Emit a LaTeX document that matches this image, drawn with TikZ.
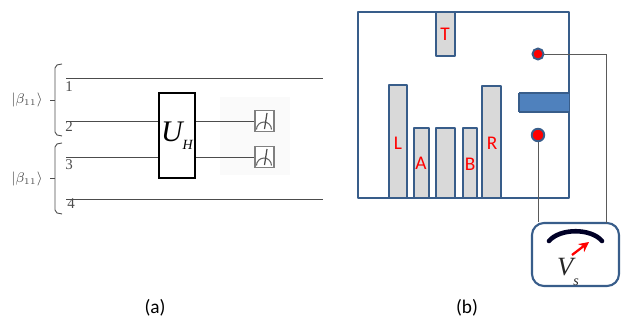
\documentclass[tikz,border=0pt]{standalone}
\usepackage{fontspec}
\setmainfont{Liberation Serif}
\newfontfamily\labelfont{Carlito}
\usepackage{amsmath}
\usepackage{amssymb}
\usetikzlibrary{arrows.meta}
\definecolor{framecol}{HTML}{385D8A}
\definecolor{barcol}{HTML}{D9D9D9}
\definecolor{plugcol}{HTML}{4F81BD}
\definecolor{wirecol}{HTML}{5A5A5A}
\tikzset{
  wire/.style={draw=black!70, line width=0.55pt},
  lead/.style={draw=wirecol, line width=0.55pt},
  brace/.style={draw=black!70, line width=0.5pt},
  gatebox/.style={draw=black, line width=1.5pt, fill=white, minimum width=7.2mm, minimum height=17mm, inner sep=0pt},
  meterbox/.style={draw=black!50, line width=0.6pt, fill=white, minimum width=3.8mm, minimum height=4.2mm, inner sep=0pt},
  wirenum/.style={font=\fontsize{8.5}{9}\selectfont, text=black!70, inner sep=0pt},
  gatebar/.style={draw=framecol, line width=1.05pt, fill=barcol, line join=round},
  barname/.style={font=\labelfont\fontsize{11}{12}\selectfont, text=red, inner sep=0pt},
  dotnode/.style={circle, draw=framecol, line width=1.1pt, fill=red, minimum size=2.2mm, inner sep=0pt},
  caption/.style={font=\labelfont\fontsize{11}{12}\selectfont, inner sep=0pt},
  ketname/.style={text=black!70, inner sep=0pt, font=\fontsize{8}{9}\selectfont},
}
\begin{document}
\begin{tikzpicture}[x=0.2mm,y=-0.2mm]
   \useasboundingbox (0,0) rectangle (626,320);
   % circuit
   \fill[black!2] (220,97) rectangle (290,175);
   \foreach \w/\y in {1/78,4/199} {
     \coordinate (in\w) at (66,\y);
     \coordinate (out\w) at (323,\y);
     \draw[wire] (in\w) -- (out\w);
   }
   \node[gatebox, font=\itshape\fontsize{17}{18}\selectfont] (gate) at (177,135.5) {U\raisebox{-0.55ex}{\fontsize{8}{9}\selectfont H}};
   \node[meterbox] (meterA) at (264.5,121) {};
   \node[meterbox] (meterB) at (264.5,157) {};
   \foreach \w/\y/\m in {2/121/meterA,3/157/meterB} {
     \coordinate (in\w) at (66,\y);
     \draw[wire] (in\w) -- (gate.west |- in\w);
     \draw[wire] (gate.east |- in\w) -- (\m.west);
     \draw[black!60, line width=0.6pt] ([xshift=0.4mm,yshift=0.5mm]\m.south west) arc[start angle=180, end angle=0, radius=1.5mm];
     \draw[black!70, line width=0.7pt] ([yshift=0.6mm]\m.south) -- ([xshift=0.5mm,yshift=-0.6mm]\m.north);
   }
   \node[wirenum] (numA) at (69,87) {1};
   \node[wirenum] (numB) at (69,127) {2};
   \node[wirenum] (numC) at (69,165) {3};
   \node[wirenum] (numD) at (71,204) {4};
   % brackets
   \draw[brace] (62,64) -- (57,65) -- (55,68) -- (55,132) -- (57,135) -- (62,136);
   \draw[brace] (50,100) -- (55,100);
   \draw[brace] (62,143) -- (57,144) -- (55,147) -- (55,210) -- (57,213) -- (62,214);
   \draw[brace] (50,178) -- (55,178);
   \node[ketname] (ketA) at (27,100) {$|\beta_{\scriptscriptstyle 11}\rangle$};
   \node[ketname] (ketB) at (27,179) {$|\beta_{\scriptscriptstyle 11}\rangle$};
   % device
   \foreach \xa/\xb/\ya in {389/407/85,414/429/128,436/455/128,463/477/128,482/501/86}
     \draw[gatebar] (\xa,\ya) rectangle (\xb,198);
   \draw[gatebar] (436,12) rectangle (455,56);
   \draw[framecol, line width=1.2pt, line join=round] (358,12) rectangle (569,198);
   \fill[plugcol] (519,93) rectangle (569,112);
   \draw[framecol, line width=0.6pt] (519,93) -- (569,93) (519,112) -- (569,112) (519,93) -- (519,112);
   \node[barname] (barT) at (445,34) {T};
   \node[barname] (barL) at (398,143) {L};
   \node[barname] (barA) at (421,163) {A};
   \node[barname] (barB) at (470,164) {B};
   \node[barname] (barR) at (492,143) {R};
   \node[dotnode] (dotA) at (538,54) {};
   \node[dotnode, minimum size=2.5mm] (dotB) at (538,135) {};
   % voltmeter
   \node[draw=framecol, line width=1.2pt, rounded corners=2.4mm, minimum width=17.4mm, minimum height=12.6mm, inner sep=0pt] (meterV) at (575.5,254.5) {};
   \coordinate (meterVa) at (606,223);
   \draw[lead] (dotA.east) -| (meterVa);
   \draw[lead] (dotB.south) -- (dotB.south |- meterV.north);
   \draw[black!85!blue, line width=2.6pt, line cap=round] (549,241) .. controls (560,228) and (591,228) .. (602,241);
   \draw[red, line width=1.3pt, -{Stealth[length=2mm,width=2mm]}] (572,255) -- (589,242);
   \node[text=black!85, inner sep=0pt, font=\itshape\fontsize{15}{16}\selectfont] (volt) at (568,272) {V\raisebox{-0.8ex}{\fontsize{8}{9}\selectfont s}};
   \node[caption] (capA) at (155,308) {(a)};
   \node[caption] (capB) at (467,308) {(b)};
\end{tikzpicture}
\end{document}
